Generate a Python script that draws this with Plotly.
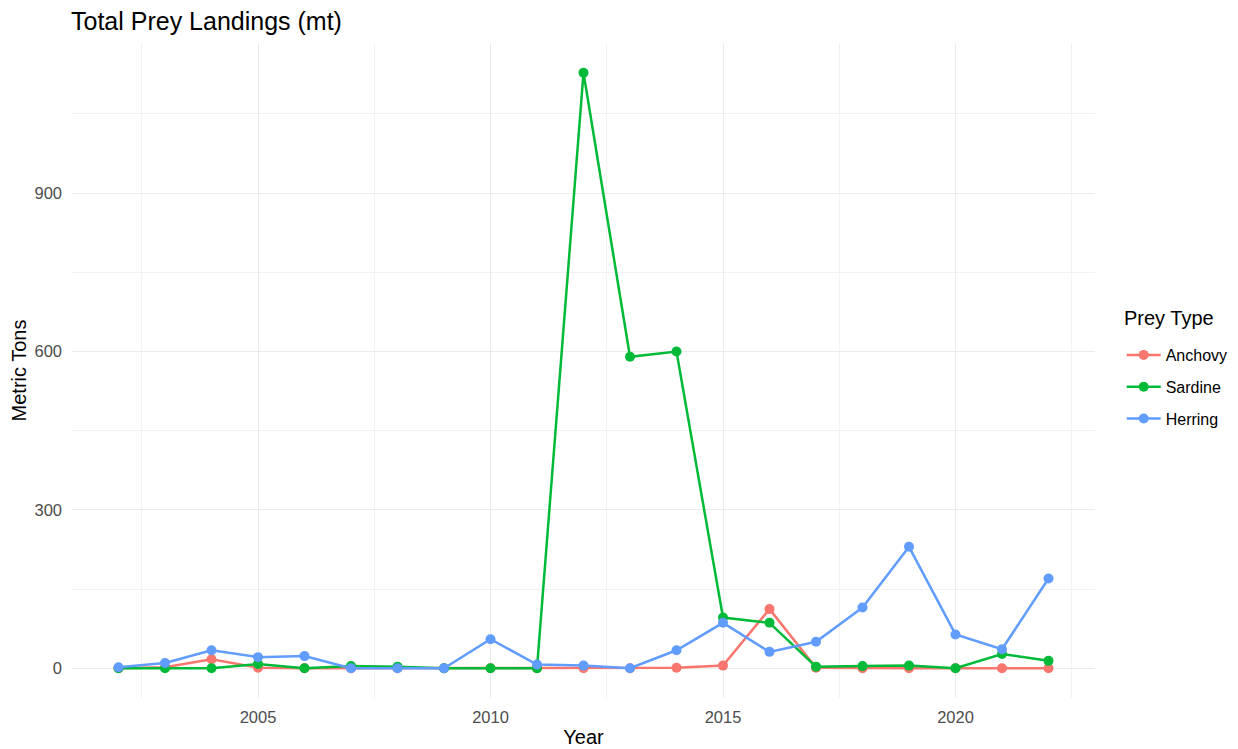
import plotly.graph_objects as go

years = list(range(2002, 2023))
anchovy = [0, 2, 17, 1, 0, 0, 0, 0, 0, 0, 0, 0, 1, 5, 112, 1, 0, 0, 0, 0, 0]
sardine = [0, 0, 0, 8, 0, 4, 3, 0, 0, 0, 1128, 590, 600, 96, 86, 3, 4, 5, 0, 27, 14]
herring = [2, 10, 34, 21, 23, 0, 0, 0, 55, 7, 5, 0, 34, 86, 31, 50, 115, 230, 64, 36, 170]

series_names = ["Anchovy", "Sardine", "Herring"]
series_values = [anchovy, sardine, herring]
colors = ["#F8766D", "#00BA38", "#619CFF"]

fig = go.Figure()
for name, vals, col in zip(series_names, series_values, colors):
    fig.add_trace(go.Scatter(
        x=years, y=vals, name=name, mode="lines+markers", legendgroup=name,
        line=dict(color=col, width=2.5),
        marker=dict(color=col, size=10),
    ))

font = "Liberation Sans, Arial, sans-serif"
grid = "#EBEBEB"
# page body has an 8px margin, so the figure is offset by 8px on screen
fig.update_layout(
    width=1238, height=749,
    margin=dict(l=64, r=151, t=35, b=59),
    plot_bgcolor="white", paper_bgcolor="white",
    font=dict(family=font, color="#4D4D4D", size=16.5),
    title=dict(text="Total Prey Landings (mt)", x=63/1238, xanchor="left",
               y=1 - 13/749, yanchor="middle",
               font=dict(family=font, size=25, color="black")),
    legend=dict(x=1.0261, xanchor="left", y=0.4748, yanchor="middle",
                font=dict(size=16, color="black"), tracegroupgap=8,
                itemwidth=34),
    annotations=[dict(text="Prey Type", xref="paper", yref="paper",
                      x=1.0264, y=0.5802, xanchor="left", yanchor="middle",
                      showarrow=False, font=dict(size=20, color="black"))],
    xaxis=dict(range=[2001, 2023], tick0=2005, dtick=5, showgrid=True,
               gridcolor=grid, gridwidth=1.4, zeroline=False, showline=False,
               ticks="", ticklabelstandoff=7, automargin=False,
               minor=dict(tick0=2002.5, dtick=2.5, showgrid=True,
                          gridcolor="#F2F2F2", gridwidth=0.8),
               title=dict(text="Year", font=dict(size=20, color="black"), standoff=5)),
    yaxis=dict(range=[-56.4, 1184.4], tick0=0, dtick=300, showgrid=True,
               gridcolor=grid, gridwidth=1.4, zeroline=False, showline=False,
               ticks="", ticklabelstandoff=9, automargin=False,
               minor=dict(tick0=150, dtick=150, showgrid=True,
                          gridcolor="#F2F2F2", gridwidth=0.8),
               title=dict(text="Metric Tons", font=dict(size=20, color="black"), standoff=12)),
)

fig.write_html("out.html")
